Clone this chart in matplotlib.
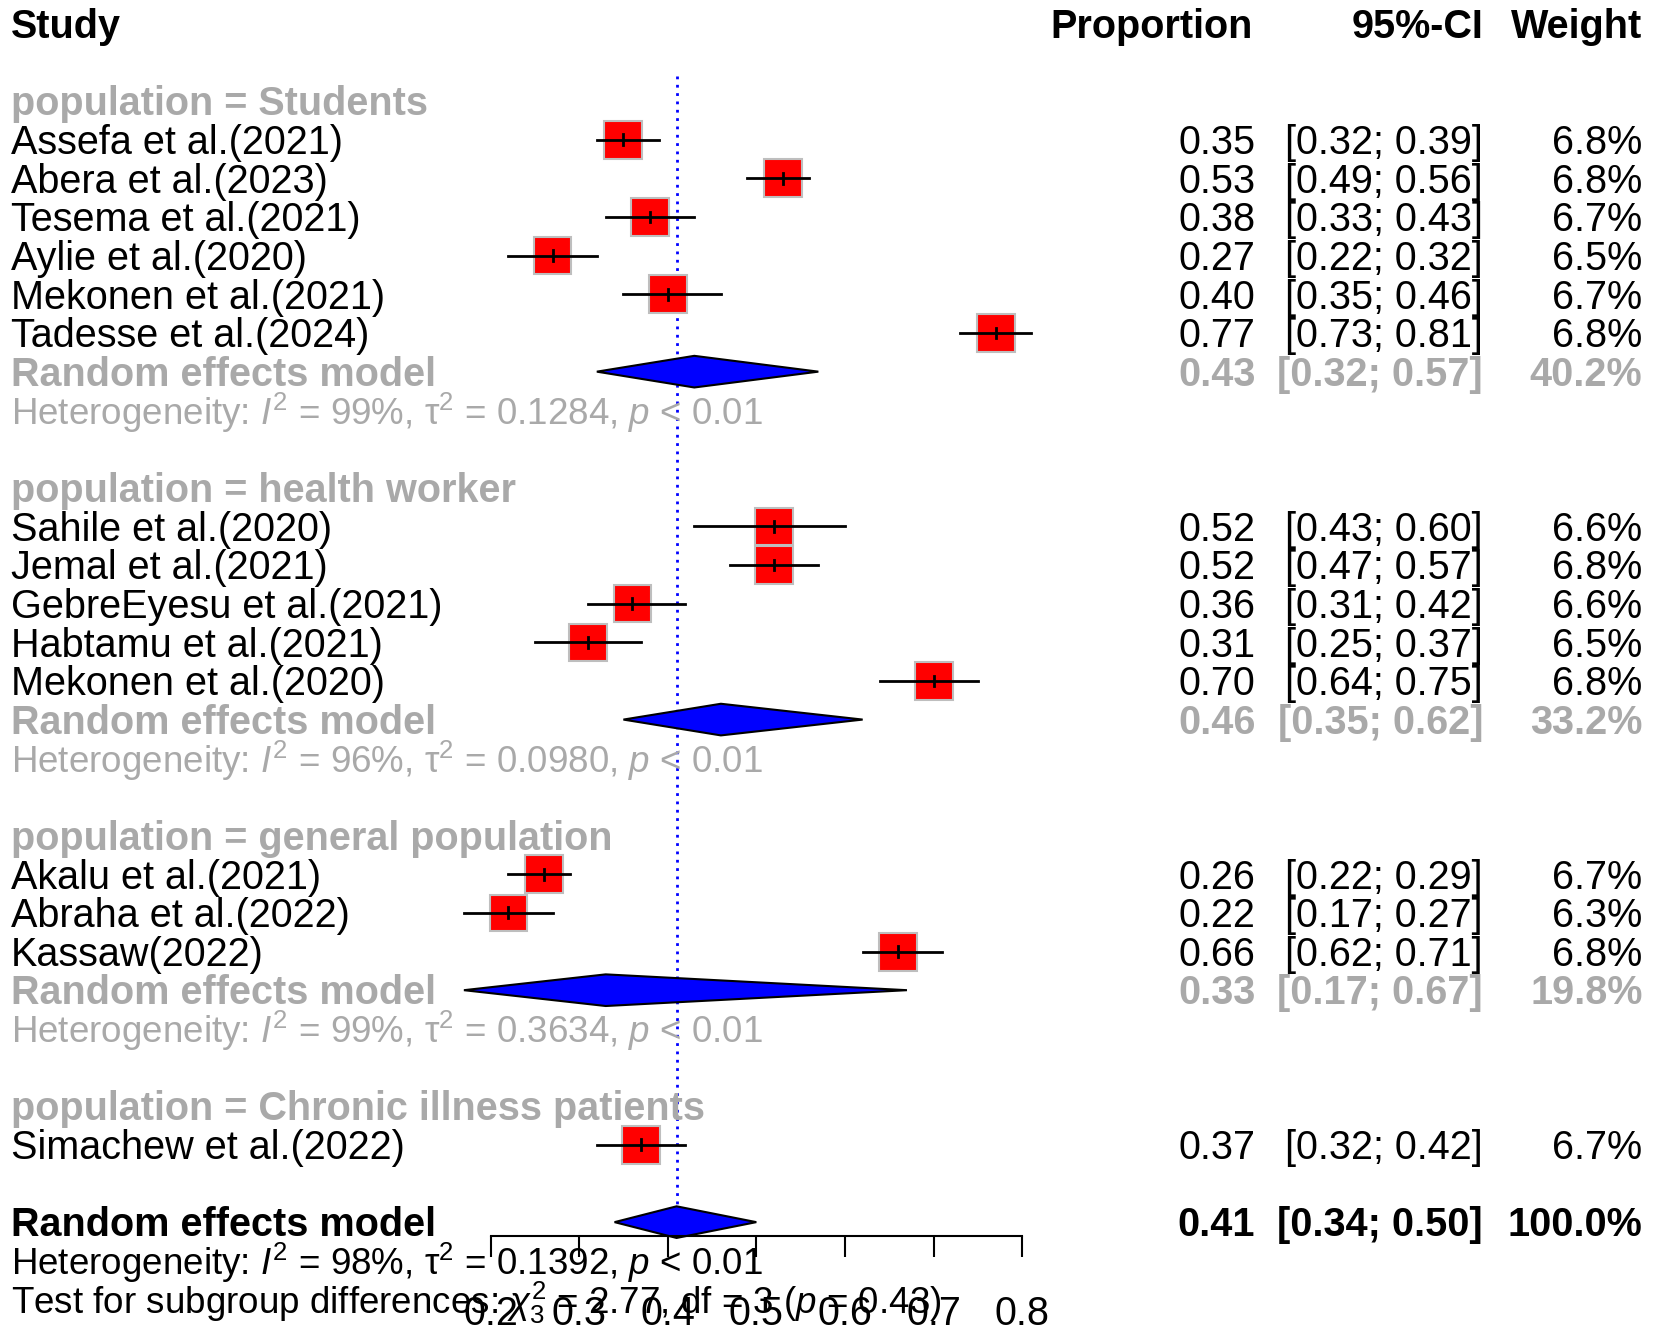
import matplotlib
matplotlib.use("Agg")
import matplotlib.pyplot as plt
import numpy as np
from matplotlib.patches import Rectangle, Polygon
from matplotlib.transforms import blended_transform_factory

plt.rcParams["font.family"] = ["Liberation Sans", "DejaVu Sans"]
plt.rcParams["mathtext.fontset"] = "custom"
plt.rcParams["mathtext.rm"] = "Liberation Sans"
plt.rcParams["mathtext.it"] = "Liberation Sans:italic"
plt.rcParams["mathtext.bf"] = "Liberation Sans:bold"

# ---- data ----
groups = ["Students", "health worker", "general population", "Chronic illness patients"]
studies = [
    "Assefa et al.(2021)", "Abera et al.(2023)", "Tesema et al.(2021)", "Aylie et al.(2020)",
    "Mekonen et al.(2021)", "Tadesse et al.(2024)",
    "Sahile et al.(2020)", "Jemal et al.(2021)", "GebreEyesu et al.(2021)", "Habtamu et al.(2021)",
    "Mekonen et al.(2020)",
    "Akalu et al.(2021)", "Abraha et al.(2022)", "Kassaw(2022)",
    "Simachew et al.(2022)",
]
study_group = [0, 0, 0, 0, 0, 0, 1, 1, 1, 1, 1, 2, 2, 2, 3]
prop = [0.35, 0.53, 0.38, 0.27, 0.40, 0.77, 0.52, 0.52, 0.36, 0.31, 0.70, 0.26, 0.22, 0.66, 0.37]
lower = [0.32, 0.49, 0.33, 0.22, 0.35, 0.73, 0.43, 0.47, 0.31, 0.25, 0.64, 0.22, 0.17, 0.62, 0.32]
upper = [0.39, 0.56, 0.43, 0.32, 0.46, 0.81, 0.60, 0.57, 0.42, 0.37, 0.75, 0.29, 0.27, 0.71, 0.42]
weight = [6.8, 6.8, 6.7, 6.5, 6.7, 6.8, 6.6, 6.8, 6.6, 6.5, 6.8, 6.7, 6.3, 6.8, 6.7]

# subgroup random effects (the single-study group has none)
sub_prop = [0.43, 0.46, 0.33]
sub_lower = [0.32, 0.35, 0.17]
sub_upper = [0.57, 0.62, 0.67]
sub_weight = [40.2, 33.2, 19.8]
sub_i2 = [99, 96, 99]
sub_tau2 = ["0.1284", "0.0980", "0.3634"]

total_prop, total_lower, total_upper = 0.41, 0.34, 0.50
total_i2, total_tau2 = 98, "0.1392"
test_chi2, test_df, test_p = 2.77, 3, 0.43

xticks = [0.2, 0.3, 0.4, 0.5, 0.6, 0.7, 0.8]

# ---- layout (measured on a 1568 x 1266.6 view of the figure) ----
W, H = 1568.0, 1266.6
ROW0, ROWH = 22.5, 36.65          # centre of first row, row pitch
X02, X08 = 465.0, 969.0           # pixel position of 0.2 and 0.8
PXU = (X08 - X02) / 0.6
FS = 28.5
FS_HET = 26.5
GRAY = "#A9A9A9"
BASE = 0.37                       # baseline offset in rows

fig = plt.figure(figsize=(16.54, 13.36), dpi=100)
ax = fig.add_axes([0, 0, 1, 1])
ax.set_xlim(0.2 - X02 / PXU, 0.2 + (W - X02) / PXU)
ax.set_ylim((H - ROW0) / ROWH, -ROW0 / ROWH)
ax.axis("off")
tr = blended_transform_factory(fig.transFigure, ax.transData)

C_STUDY, C_PROP, C_CI, C_W = 10 / W, 1190 / W, 1406 / W, 1557 / W


def row_text(row, study, p=None, ci=None, w=None, color="black", weight_="normal"):
    y = row + BASE
    ax.text(C_STUDY, y, study, transform=tr, fontsize=FS, color=color, fontweight=weight_, va="baseline")
    if p is not None:
        ax.text(C_PROP, y, p, transform=tr, fontsize=FS, color=color, fontweight=weight_, va="baseline", ha="right")
        ax.text(C_CI, y, ci, transform=tr, fontsize=FS, color=color, fontweight=weight_, va="baseline", ha="right")
        ax.text(C_W, y, w, transform=tr, fontsize=FS, color=color, fontweight=weight_, va="baseline", ha="right")


def diamond(row, est, lo, hi):
    hh = 15 / ROWH
    ax.add_patch(Polygon([(lo, row), (est, row - hh), (hi, row), (est, row + hh)],
                         closed=True, facecolor="blue", edgecolor="black", lw=1.5, zorder=3))


def het_label(i2, tau2):
    return rf"Heterogeneity: $I^2$ = {i2}%, $\mathrm{{\tau}}^2$ = {tau2}, $p$ < 0.01"


# header
ax.text(C_STUDY, 0 + BASE, "Study", transform=tr, fontsize=FS, fontweight="bold", va="baseline")
ax.text(C_PROP - 2 / W, 0 + BASE, "Proportion", transform=tr, fontsize=FS, fontweight="bold", va="baseline", ha="right")
ax.text(C_CI, 0 + BASE, "95%-CI", transform=tr, fontsize=FS, fontweight="bold", va="baseline", ha="right")
ax.text(C_W, 0 + BASE, "Weight", transform=tr, fontsize=FS, fontweight="bold", va="baseline", ha="right")

max_w = max(weight)
row = 2
for g, gname in enumerate(groups):
    ax.text(C_STUDY, row + BASE, f"population = {gname}", transform=tr, fontsize=FS,
            fontweight="bold", color=GRAY, va="baseline")
    row += 1
    for i in [k for k, sg in enumerate(study_group) if sg == g]:
        side = 36 * np.sqrt(weight[i] / max_w)
        sw, sh = side / PXU, side / ROWH
        ax.add_patch(Rectangle((prop[i] - sw / 2, row - sh / 2), sw, sh, facecolor="red",
                               edgecolor="#BEBEBE", lw=1.5, zorder=2))
        ax.plot([lower[i], upper[i]], [row, row], color="black", lw=2, zorder=4)
        ax.plot([prop[i], prop[i]], [row - 0.14, row + 0.14], color="black", lw=2, zorder=4)
        row_text(row, studies[i], f"{prop[i]:.2f}", f"[{lower[i]:.2f}; {upper[i]:.2f}]", f"{weight[i]:.1f}%")
        row += 1
    if g < len(sub_prop):
        diamond(row, sub_prop[g], sub_lower[g], sub_upper[g])
        row_text(row, "Random effects model", f"{sub_prop[g]:.2f}",
                 f"[{sub_lower[g]:.2f}; {sub_upper[g]:.2f}]", f"{sub_weight[g]:.1f}%",
                 color=GRAY, weight_="bold")
        row += 1
        ax.text(C_STUDY, row + BASE, het_label(sub_i2[g], sub_tau2[g]),
                transform=tr, fontsize=FS_HET, color=GRAY, va="baseline")
        row += 1
    row += 1

# overall
total_row = row
diamond(total_row, total_prop, total_lower, total_upper)
row_text(total_row, "Random effects model", f"{total_prop:.2f}",
         f"[{total_lower:.2f}; {total_upper:.2f}]", "100.0%", weight_="bold")
ax.text(C_STUDY, total_row + 1 + BASE, het_label(total_i2, total_tau2),
        transform=tr, fontsize=FS_HET, va="baseline")
ax.text(C_STUDY, total_row + 2 + BASE,
        rf"Test for subgroup differences: $\chi^2_{test_df}$ = {test_chi2:.2f}, df = {test_df} ($p$ = {test_p:.2f})",
        transform=tr, fontsize=FS_HET, va="baseline")

# reference line at the overall estimate
ax.plot([total_prop, total_prop], [1.35, total_row - 15 / ROWH], color="blue", lw=2,
        linestyle=(0, (1.0, 2.0)), zorder=1)

# x axis
y_line = 1172.0
axx = fig.add_axes([X02 / W, 1 - y_line / H, (X08 - X02) / W, 1e-5])
axx.set_xlim(0.2, 0.8)
axx.set_facecolor("none")
for s in ["top", "left", "right"]:
    axx.spines[s].set_visible(False)
axx.spines["bottom"].set_linewidth(1.5)
axx.set_yticks([])
axx.set_xticks(xticks)
axx.set_xticklabels([f"{t:.1f}" for t in xticks], fontsize=FS)
axx.tick_params(axis="x", direction="out", length=15, width=1.5, pad=27)

fig.savefig("out.png", dpi=100)
